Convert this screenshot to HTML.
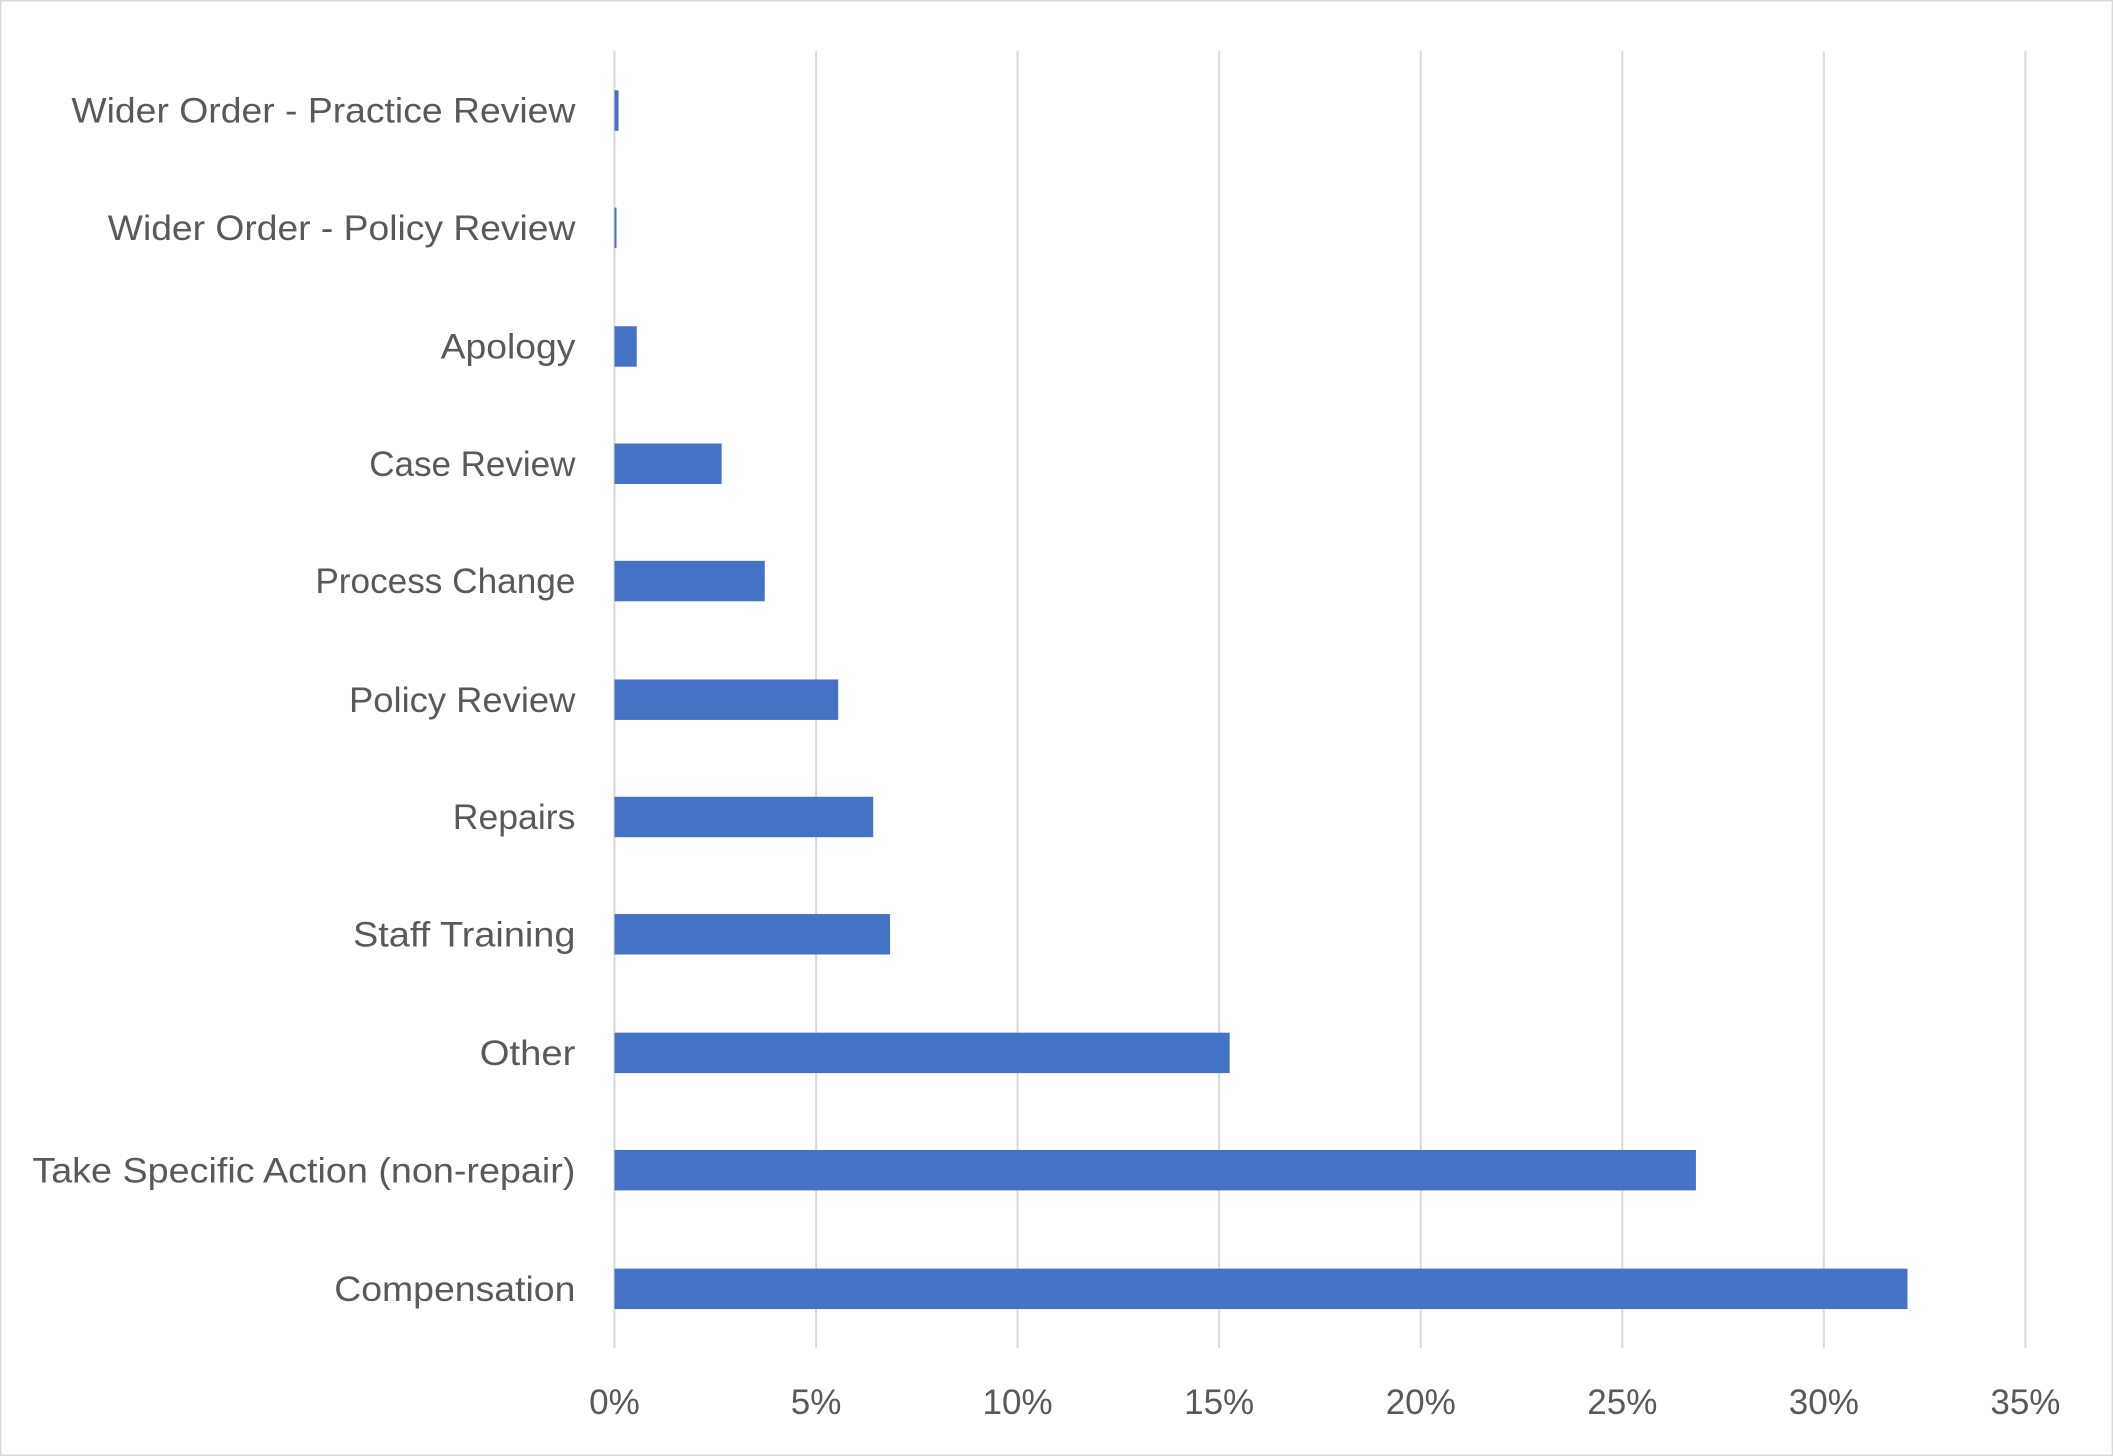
<!DOCTYPE html>
<html><head><meta charset="utf-8"><style>
html,body{margin:0;padding:0;background:#fff;}
svg{display:block;}
text{font-family:"Liberation Sans",sans-serif;fill:#595959;font-size:26px;}
</style></head><body>
<svg width="2113" height="1456" viewBox="0 0 1568 1080" preserveAspectRatio="none" xmlns="http://www.w3.org/2000/svg">
<rect x="0.5" y="0.5" width="1567" height="1079" fill="#fff" stroke="#d9d9d9" stroke-width="1"/>
<g stroke="#d9d9d9" stroke-width="1.5">
<line x1="456" y1="38" x2="456" y2="1000"/>
<line x1="605.6" y1="38" x2="605.6" y2="1000"/>
<line x1="755.1" y1="38" x2="755.1" y2="1000"/>
<line x1="904.7" y1="38" x2="904.7" y2="1000"/>
<line x1="1054.3" y1="38" x2="1054.3" y2="1000"/>
<line x1="1203.9" y1="38" x2="1203.9" y2="1000"/>
<line x1="1353.4" y1="38" x2="1353.4" y2="1000"/>
<line x1="1503" y1="38" x2="1503" y2="1000"/>
</g>
<g fill="#4472c4">
<rect x="456" y="67" width="3" height="30"/>
<rect x="456" y="154" width="1.5" height="30"/>
<rect x="456" y="242" width="16.5" height="30"/>
<rect x="456" y="329" width="79.5" height="30"/>
<rect x="456" y="416" width="111.5" height="30"/>
<rect x="456" y="504" width="166" height="30"/>
<rect x="456" y="591" width="192" height="30"/>
<rect x="456" y="678" width="204.5" height="30"/>
<rect x="456" y="766" width="456.5" height="30"/>
<rect x="456" y="853" width="802.5" height="30"/>
<rect x="456" y="941" width="959.5" height="30"/>
</g>
<g>
<text x="53" y="91" textLength="374" lengthAdjust="spacingAndGlyphs">Wider Order - Practice Review</text>
<text x="80" y="178" textLength="347" lengthAdjust="spacingAndGlyphs">Wider Order - Policy Review</text>
<text x="327" y="266" textLength="100" lengthAdjust="spacingAndGlyphs">Apology</text>
<text x="274" y="353" textLength="153" lengthAdjust="spacingAndGlyphs">Case Review</text>
<text x="234" y="440" textLength="193" lengthAdjust="spacingAndGlyphs">Process Change</text>
<text x="259" y="528" textLength="168" lengthAdjust="spacingAndGlyphs">Policy Review</text>
<text x="336" y="615" textLength="91" lengthAdjust="spacingAndGlyphs">Repairs</text>
<text x="262" y="702" textLength="165" lengthAdjust="spacingAndGlyphs">Staff Training</text>
<text x="356" y="790" textLength="71" lengthAdjust="spacingAndGlyphs">Other</text>
<text x="24" y="877" textLength="403" lengthAdjust="spacingAndGlyphs">Take Specific Action (non-repair)</text>
<text x="248" y="965" textLength="179" lengthAdjust="spacingAndGlyphs">Compensation</text>
</g>
<g text-anchor="middle">
<text x="456" y="1049">0%</text>
<text x="605.6" y="1049">5%</text>
<text x="755.1" y="1049">10%</text>
<text x="904.7" y="1049">15%</text>
<text x="1054.3" y="1049">20%</text>
<text x="1203.9" y="1049">25%</text>
<text x="1353.4" y="1049">30%</text>
<text x="1503" y="1049">35%</text>
</g>
</svg>
</body></html>
